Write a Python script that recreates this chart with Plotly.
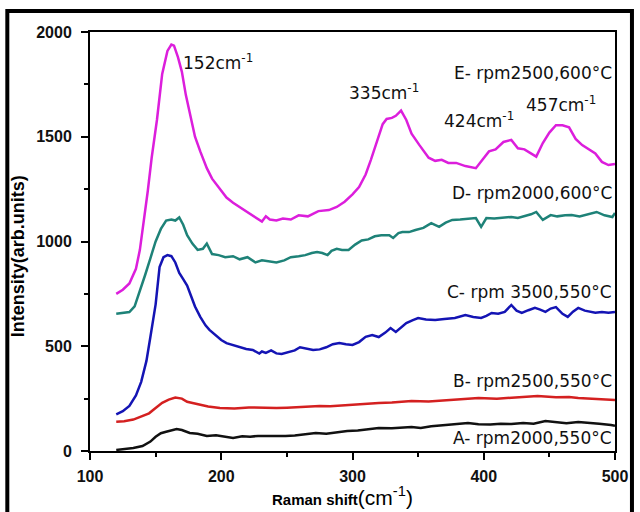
import plotly.graph_objects as go

# ---------------- data ----------------
xE = [120,125,130,135,138,141,144,147,151,155,159,162,164,167,170,173,176,180,184,189,193,199,204,209,215,221,226,231,234,237,242,247,253,259,266,274,282,288,294,300,305,310,314,319,323,326,330,333,337,341,345,351,358,363,368,373,379,386,394,399,404,409,415,421,426,431,436,440,445,450,455,460,465,470,475,480,485,490,495,500]
yE = [750,770,800,870,960,1090,1240,1400,1580,1800,1910,1940,1935,1880,1810,1700,1610,1500,1430,1350,1300,1250,1210,1185,1160,1135,1115,1095,1120,1105,1100,1110,1105,1125,1120,1145,1150,1165,1190,1225,1260,1320,1390,1480,1560,1585,1590,1600,1625,1580,1515,1460,1400,1385,1390,1375,1375,1360,1350,1390,1430,1440,1475,1485,1445,1440,1420,1405,1470,1520,1555,1555,1545,1490,1460,1440,1420,1380,1365,1370]

xD = [120,125,130,134,138,142,146,150,154,158,162,165,168,171,174,178,182,186,189,193,198,203,209,214,220,226,231,236,242,248,253,259,264,269,273,277,281,284,288,292,297,302,307,312,317,322,328,331,335,338,343,348,354,360,363,366,371,376,382,388,394,398,402,408,414,421,426,431,436,440,445,451,456,462,467,473,480,486,492,498,500]
yD = [655,658,663,690,760,840,920,1000,1060,1100,1105,1100,1115,1080,1030,990,960,965,990,940,935,925,930,915,925,900,910,905,900,910,925,930,935,945,950,945,935,955,965,960,960,985,1005,1010,1025,1030,1030,1017,1040,1045,1045,1055,1065,1088,1080,1070,1090,1103,1105,1110,1112,1070,1112,1110,1112,1117,1112,1120,1130,1141,1103,1126,1120,1125,1126,1120,1130,1141,1125,1117,1136]

xC = [120,125,130,135,139,143,146,150,153,156,159,162,165,168,171,174,177,180,184,188,191,195,200,204,209,214,219,224,229,231,234,238,242,246,251,256,260,265,270,275,280,285,290,295,300,305,310,315,320,325,329,333,337,341,346,350,356,363,370,378,386,392,398,402,406,411,416,421,425,429,434,439,443,447,451,455,460,464,468,472,477,481,485,490,495,500]
yC = [175,190,215,265,330,430,544,700,878,925,935,930,900,850,820,790,740,690,640,600,578,555,530,515,505,496,487,482,465,475,468,480,466,463,470,480,495,490,482,485,495,510,516,510,506,520,545,554,544,565,587,568,590,611,625,635,628,625,630,635,649,640,635,645,659,655,664,697,670,659,672,683,675,664,680,687,655,640,665,683,670,664,660,664,660,664]

xB = [120,126,133,139,145,150,155,160,165,170,174,179,184,190,199,210,221,232,242,250,259,267,275,283,291,300,310,320,330,345,358,371,384,396,410,425,441,455,465,472,480,490,500]
yB = [140,142,150,165,180,205,230,245,255,250,235,228,220,212,205,203,208,205,205,207,210,212,215,214,218,220,225,229,232,239,236,243,248,253,250,255,262,256,258,253,250,245,243]

xA = [120,126,133,140,146,150,154,158,162,166,170,176,182,189,196,203,209,216,222,228,234,241,249,256,263,272,280,288,296,304,312,320,330,338,345,352,360,371,380,388,396,405,413,421,430,438,447,455,463,472,480,488,497,500]
yA = [5,8,14,24,45,68,85,92,100,105,100,86,82,72,75,68,62,70,68,72,72,70,72,74,80,86,82,90,95,98,105,110,108,112,115,110,118,124,128,134,128,126,130,129,134,130,143,138,133,138,135,130,124,120]

series_names = ["A- rpm2000,550°C", "B- rpm2500,550°C", "C- rpm 3500,550°C",
                "D- rpm2000,600°C", "E- rpm2500,600°C"]
series_colors = ["#111111", "#D42020", "#1414B4", "#1E8278", "#DC1EDC"]

label_y = [62, 334, 759, 1231, 1804]
label_x = 499.5

peak_labels = ["152cm<sup>-1</sup>", "335cm<sup>-1</sup>", "424cm<sup>-1</sup>", "457cm<sup>-1</sup>"]
peak_x = [169.5, 295.5, 368.5, 431]
peak_y = [1857, 1714, 1580, 1656]

x_ticks = [100, 200, 300, 400, 500]
y_ticks = [0, 500, 1000, 1500, 2000]

# ---------------- figure ----------------
fig = go.Figure()
xs = [xA, xB, xC, xD, xE]
ys = [yA, yB, yC, yD, yE]
for xv, yv, nm, col in zip(xs, ys, series_names, series_colors):
    fig.add_trace(go.Scatter(x=xv, y=yv, mode="lines", name=nm,
                             line=dict(color=col, width=2.5), showlegend=False))

FONT = "Liberation Sans, Arial, sans-serif"
LFONT = "DejaVu Sans, sans-serif"

for nm, ly in zip(series_names, label_y):
    fig.add_annotation(x=label_x, y=ly, xref="x", yref="y", text=nm,
                       showarrow=False, xanchor="right", yanchor="middle",
                       font=dict(family=LFONT, size=17, color="#111111"))

for t, px, py in zip(peak_labels, peak_x, peak_y):
    fig.add_annotation(x=px, y=py, xref="x", yref="y", text=t,
                       showarrow=False, xanchor="left", yanchor="middle",
                       font=dict(family=LFONT, size=17, color="#111111"))

# y-axis title
fig.add_annotation(x=-0.137, y=0.465, xref="paper", yref="paper",
                   text="Intensity(arb.units)", textangle=-90, showarrow=False,
                   xanchor="center", yanchor="middle",
                   font=dict(family=FONT, size=18, color="black", weight="bold"))

# x-axis title
fig.add_annotation(x=0.48, y=-0.108, xref="paper", yref="paper",
                   text="Raman shift<span style='font-size:21px;font-weight:normal'>(cm<sup>-1</sup>)</span>",
                   showarrow=False, xanchor="center", yanchor="middle",
                   font=dict(family=FONT, size=15, color="black", weight="bold"))

# outer border
fig.add_shape(type="rect", xref="paper", yref="paper",
              x0=-0.1575, x1=1.0323, y0=-0.4, y1=1.050,
              line=dict(color="black", width=4), fillcolor="rgba(0,0,0,0)")

fig.update_xaxes(range=[100, 500], tickvals=x_ticks, ticks="outside", ticklen=7,
                 tickwidth=2, tickcolor="black", showline=True, linecolor="black",
                 linewidth=2, mirror=True, showgrid=False, zeroline=False,
                 ticklabelstandoff=3,
                 tickfont=dict(family=FONT, size=16, color="#111111", weight="bold"),
                 minor=dict(dtick=50, tick0=100, ticks="outside", ticklen=4,
                            tickwidth=2, tickcolor="black", showgrid=False))
fig.update_yaxes(range=[0, 2000], tickvals=y_ticks, ticks="outside", ticklen=7,
                 tickwidth=2, tickcolor="black", showline=True, linecolor="black",
                 linewidth=2, mirror=True, showgrid=False, zeroline=False,
                 ticklabelstandoff=6,
                 tickfont=dict(family=FONT, size=16, color="#111111", weight="bold"),
                 minor=dict(dtick=250, tick0=0, ticks="outside", ticklen=4,
                            tickwidth=2, tickcolor="black", showgrid=False))

fig.update_layout(width=640, height=512, margin=dict(l=90, r=23, t=32, b=61),
                  plot_bgcolor="white", paper_bgcolor="white")

fig.write_html("out.html")
